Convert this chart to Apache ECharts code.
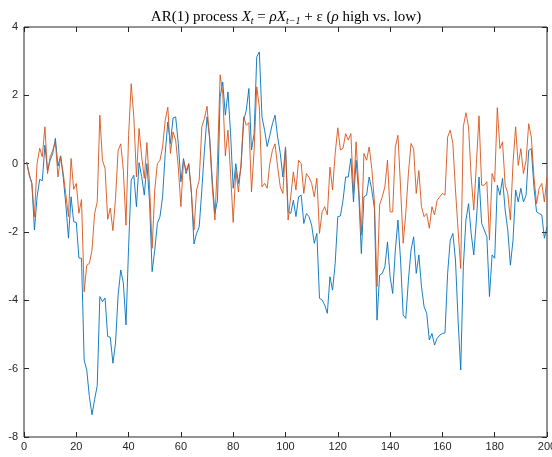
<!DOCTYPE html>
<html lang="en">
<head>
    <meta charset="UTF-8">
    <title>AR(1) process</title>
    <script src="https://cdn.jsdelivr.net/npm/echarts@6/dist/echarts.min.js"></script>
    <style>
        html, body { margin: 0; padding: 0; background: #fff; }
    </style>
</head>
<body>
<div id="chart" style="width: 552px;height: 457px;"></div>
<script>
    // rho high (blue) and rho low (orange), t = 1..200
    var highRho = [
        0.05, -0.3, -0.58, -1.94, -0.97, -0.46, -0.5, 0.54, -0.2, 0.1,
        0.3, 0.74, -0.07, 0.23, -0.4, -1.2, -2.18, -0.97, -1.7, -1.72,
        -2.76, -2.77, -5.75, -6.04, -6.82, -7.35, -6.9, -6.5, -3.89, -4.04,
        -3.93, -5.06, -5.08, -5.84, -5.25, -3.84, -3.11, -3.5, -4.72, -2.43,
        -0.48, -0.34, -1.26, 0.03, -0.38, -0.92, 0.0, -1.1, -3.16, -2.53,
        -1.75, -1.55, -0.97, 0.3, 1.22, 0.59, 1.34, 1.37, 0.59, -0.53,
        0.15, -0.29, 0.0, -0.83, -2.35, -2.04, -1.85, -0.77, 0.39, 1.37,
        0.78, -0.48, -1.46, -1.07, 1.95, 2.39, 1.42, 2.1, 0.88, -0.72,
        0.0, -0.58, -0.1, 1.27, 1.56, 2.2, 0.4, 0.88, 3.12, 3.27,
        1.37, 0.98, 0.5, 0.83, 1.17, 1.42, 0.78, 0.3, -0.39, 0.49,
        -1.4, -1.46, -1.07, -1.55, -0.97, -0.92, -1.75, -1.46, -1.55, -1.8,
        -2.33, -2.04, -3.94, -3.99, -4.14, -4.38, -3.31, -3.7, -2.92, -1.55,
        -1.53, -1.07, -0.39, -0.39, 0.15, -1.12, 0.1, -0.87, -2.63, -0.97,
        -0.92, -0.39, -0.77, -1.31, -4.58, -3.26, -3.21, -3.02, -2.29, -3.31,
        -3.8, -2.53, -1.65, -2.82, -4.43, -4.53, -3.41, -2.53, -2.14, -3.21,
        -2.67, -3.6, -4.19, -4.38, -5.16, -4.97, -5.31, -5.11, -5.02, -4.97,
        -4.95, -3.21, -2.24, -2.04, -2.82, -4.58, -6.04, -3.02, -1.65, -1.17,
        -2.04, -2.67, -1.65, -0.39, -1.75, -1.94, -2.14, -3.89, -2.67, -2.77,
        -0.63, -0.92, -0.43, -1.36, -1.94, -2.97, -2.24, -0.77, -1.12, -0.72,
        -1.12, -0.92, 0.39, 0.44, -0.68, -1.41, -1.46, -1.5, -2.18, -1.85
    ];
    var lowRho = [
        0.05, -0.34, -0.58, -1.55, 0.0, 0.45, 0.2, 1.08, -0.29, 0.2,
        0.39, 0.64, -0.39, 0.2, -0.28, -0.9, -1.55, 0.15, -0.75, -0.58,
        -1.45, -1.05, -3.75, -2.97, -2.92, -2.53, -1.46, -1.12, 1.42, 0.1,
        -0.14, -1.63, -1.3, -1.96, -1.02, 0.39, 0.58, -0.2, -1.8, 0.83,
        2.34, 1.36, -0.39, 1.03, 0.2, -0.43, 0.62, -0.63, -2.48, -0.77,
        0.0, 0.1, 0.49, 1.27, 1.65, 0.3, 0.93, 0.69, -0.09, -1.26,
        0.1, -0.2, 0.0, -0.83, -1.94, -0.77, -0.48, 1.08, 1.32, 1.68,
        0.69, -0.68, -1.65, 0.1, 2.6, 2.05, 0.23, 0.98, -0.29, -1.72,
        -0.2, -0.83, 0.0, 1.37, 1.12, 1.2, -0.83, 0.4, 2.25, 1.66,
        -0.68, -0.58, -0.72, 0.0, 0.39, 0.58, -0.1, -0.68, -0.87, 0.49,
        -1.65, -0.97, -0.24, -0.77, 0.1, 0.0, -0.87, -0.29, -0.4, -0.58,
        -0.97, -0.43, -2.04, -1.41, -1.26, -1.5, -0.1, -0.77, 0.3, 1.05,
        0.4, 0.45, 0.88, 0.69, 0.88, -0.87, 0.64, -0.68, -2.09, 0.3,
        0.1, 0.49, -0.14, -1.12, -3.6, -1.2, -0.97, -0.68, 0.1, -1.41,
        -1.41, 0.49, 0.83, -0.68, -2.33, -1.46, -0.29, 0.59, 0.44, -0.87,
        -0.2, -1.26, -1.55, -1.46, -1.89, -1.26, -1.5, -1.07, -0.97, -0.87,
        -0.92, 0.78, 0.98, 0.59, -0.77, -1.94, -3.07, 1.08, 1.49, 1.08,
        -0.39, -1.36, 0.0, 1.4, -0.63, -0.63, -0.53, -2.24, -0.29, -0.53,
        1.64, 0.44, 0.64, -0.63, -0.87, -1.65, 0.0, 1.08, -0.05, 0.44,
        -0.29, 0.1, 1.17, 0.78, -0.39, -1.17, -0.72, -0.58, -1.12, -0.39
    ];
    var xRange = [0, 200, 20];
    var yRange = [-8, 4, 2];

    function toPoints(arr) {
        return arr.map(function (v, i) { return [i + 1, v]; });
    }

    var axisColor = '#262626';
    var tickStyle = { show: true, inside: true, length: 5, lineStyle: { color: axisColor, width: 1 } };
    var hiddenLine = { show: false, onZero: false };

    var myEcharts = echarts.init(document.getElementById('chart'));
    var option = {
        animation: false,
        title: {
            text: '{n|AR(1) process }{i|X}{s|t}{n| = }{i|ρX}{s|t−1}{n| + ε (}{i|ρ}{n| high vs. low)}',
            left: 281,
            textAlign: 'center',
            top: 2,
            textStyle: {
                fontWeight: 'normal',
                rich: {
                    n: { fontFamily: 'Liberation Serif', fontWeight: 'normal', fontSize: 15, color: '#000', lineHeight: 18, verticalAlign: 'bottom' },
                    i: { fontFamily: 'Liberation Serif', fontWeight: 'normal', fontStyle: 'italic', fontSize: 15, color: '#000', lineHeight: 18, verticalAlign: 'bottom' },
                    s: { fontFamily: 'Liberation Serif', fontWeight: 'normal', fontStyle: 'italic', fontSize: 10, color: '#000', lineHeight: 18, verticalAlign: 'bottom', padding: [0, 0, -1, 0] }
                }
            }
        },
        grid: {
            left: 24, right: 5, top: 27, bottom: 20,
            outerBoundsMode: 'none',
            containLabel: false,
            show: true, borderColor: axisColor, borderWidth: 1, backgroundColor: '#fff'
        },
        xAxis: [{
            type: 'value', min: xRange[0], max: xRange[1], interval: xRange[2], position: 'bottom',
            axisLine: hiddenLine,
            axisTick: tickStyle,
            splitLine: { show: false },
            axisLabel: { color: axisColor, fontFamily: 'Liberation Sans', fontSize: 11, margin: 4, showMaxLabel: true }
        }, {
            type: 'value', min: xRange[0], max: xRange[1], interval: xRange[2], position: 'top',
            axisLine: hiddenLine,
            axisTick: tickStyle,
            splitLine: { show: false },
            axisLabel: { show: false }
        }],
        yAxis: [{
            type: 'value', min: yRange[0], max: yRange[1], interval: yRange[2], position: 'left',
            axisLine: hiddenLine,
            axisTick: tickStyle,
            splitLine: { show: false },
            axisLabel: { color: axisColor, fontFamily: 'Liberation Sans', fontSize: 11, margin: 6 }
        }, {
            type: 'value', min: yRange[0], max: yRange[1], interval: yRange[2], position: 'right',
            axisLine: hiddenLine,
            axisTick: tickStyle,
            splitLine: { show: false },
            axisLabel: { show: false }
        }],
        series: [{
            name: 'high', type: 'line', data: toPoints(highRho), showSymbol: false,
            lineStyle: { color: '#0072BD', width: 0.9 }, itemStyle: { color: '#0072BD' }
        }, {
            name: 'low', type: 'line', data: toPoints(lowRho), showSymbol: false,
            lineStyle: { color: '#D95319', width: 0.9 }, itemStyle: { color: '#D95319' }
        }]
    };
    myEcharts.setOption(option);
</script>
</body>
</html>
